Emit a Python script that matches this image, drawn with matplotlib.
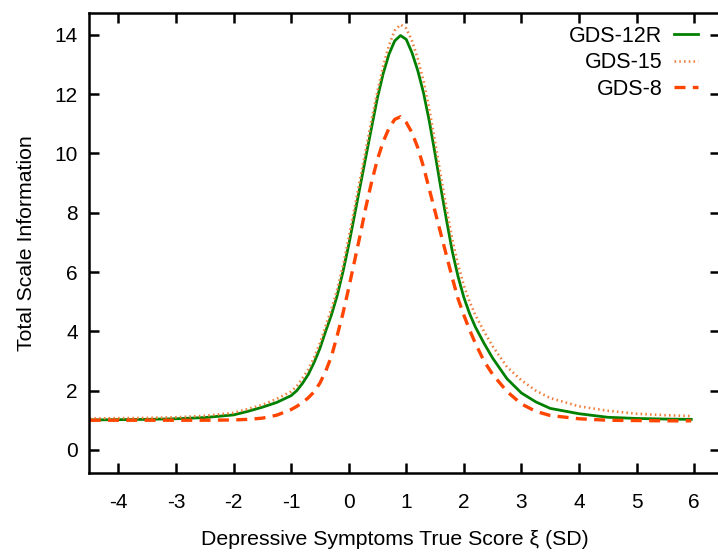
import matplotlib
matplotlib.use("Agg")
import matplotlib.pyplot as plt

plt.rcParams['font.family'] = ['Liberation Sans', 'DejaVu Sans']
plt.rcParams['axes.unicode_minus'] = False

# theta grid (SD units), finer around the peak
xi = [-4.5, -4.0, -3.5, -3.0, -2.5, -2.0, -1.75, -1.5, -1.25,
      -1.0, -0.9, -0.8, -0.7, -0.6, -0.5, -0.4, -0.3, -0.2, -0.1,
      0.0, 0.1, 0.2, 0.3, 0.4, 0.5, 0.6, 0.7, 0.8, 0.9,
      1.0, 1.1, 1.2, 1.3, 1.4, 1.5, 1.6, 1.7, 1.8, 1.9,
      2.0, 2.1, 2.2,
      2.35, 2.5, 2.75, 3.0, 3.25, 3.5, 4.0, 4.5, 5.0, 5.5, 5.95]

gds12r = [1.01, 1.02, 1.03, 1.05, 1.09, 1.18, 1.30, 1.44, 1.60,
          1.83, 2.0, 2.25, 2.55, 2.95, 3.42, 4.0, 4.55, 5.2, 6.0,
          6.9, 7.9, 8.9, 9.9, 10.9, 11.88, 12.7, 13.35, 13.8, 13.98,
          13.85, 13.4, 12.8, 12.05, 11.1, 10.0, 8.85, 7.75, 6.7, 5.85,
          5.15, 4.6, 4.15,
          3.6, 3.1, 2.4, 1.92, 1.62, 1.40, 1.22, 1.10, 1.06, 1.04, 1.03]

gds15 = [1.06, 1.07, 1.08, 1.10, 1.15, 1.25, 1.38, 1.52, 1.72,
         1.97, 2.15, 2.42, 2.72, 3.12, 3.6, 4.18, 4.75, 5.4, 6.2,
         7.15, 8.15, 9.15, 10.15, 11.15, 12.1, 12.95, 13.65, 14.15, 14.35,
         14.22, 13.8, 13.2, 12.45, 11.5, 10.4, 9.25, 8.15, 7.1, 6.25,
         5.55, 5.0, 4.55,
         4.0, 3.5, 2.8, 2.35, 2.0, 1.75, 1.47, 1.32, 1.22, 1.17, 1.14]

gds8 = [1.0, 1.0, 1.0, 1.0, 1.0, 1.01, 1.03, 1.07, 1.17,
        1.36, 1.47, 1.6, 1.76, 1.96, 2.25, 2.65, 3.15, 3.85, 4.6,
        5.45, 6.35, 7.25, 8.2, 9.05, 9.8, 10.4, 10.85, 11.15, 11.24,
        11.05, 10.7, 10.2, 9.55, 8.8, 8.05, 7.3, 6.55, 5.8, 5.1,
        4.55, 4.05, 3.6,
        3.0, 2.55, 1.97, 1.55, 1.30, 1.16, 1.05, 1.0, 0.99, 0.98, 0.98]

fig = plt.figure(figsize=(7.18, 5.52), dpi=100)
ax = fig.add_axes([89 / 718, (552 - 472.7) / 552, (720 - 89) / 718, (472.7 - 12.7) / 552])

ax.plot(xi, gds12r, color='#008000', lw=2.0, label='GDS-12R')
ax.plot(xi, gds15, color='#f08040', lw=1.9, ls=(0, (0.6, 1.2)), label='GDS-15')
ax.plot(xi, gds8, color='#ff4500', lw=2.4, ls=(0, (3.3, 2.2)), label='GDS-8')

ax.set_xlim(-4.51, 6.45)
ax.set_ylim(-0.77, 14.75)
ax.set_xticks(range(-4, 7))
ax.set_yticks(range(0, 15, 2))

for s in ax.spines.values():
    s.set_linewidth(1.8)
ax.tick_params(direction='in', length=7, width=1.8, top=True, right=True, labelsize=15)
ax.tick_params(axis='x', pad=14.5)
ax.tick_params(axis='y', pad=8)

ax.set_xlabel('Depressive Symptoms True Score ξ (SD)', fontsize=15.3, labelpad=13)
ax.xaxis.label.set_x(0.485)
ax.set_ylabel('Total Scale Information', fontsize=15.3, labelpad=13.5)

ax.legend(loc='upper right', frameon=False, markerfirst=False, fontsize=15.5,
          handlelength=1.1, labelspacing=0.25, handletextpad=0.56,
          bbox_to_anchor=(0.979, 0.99), borderaxespad=0)

fig.savefig('out.png', dpi=100)
